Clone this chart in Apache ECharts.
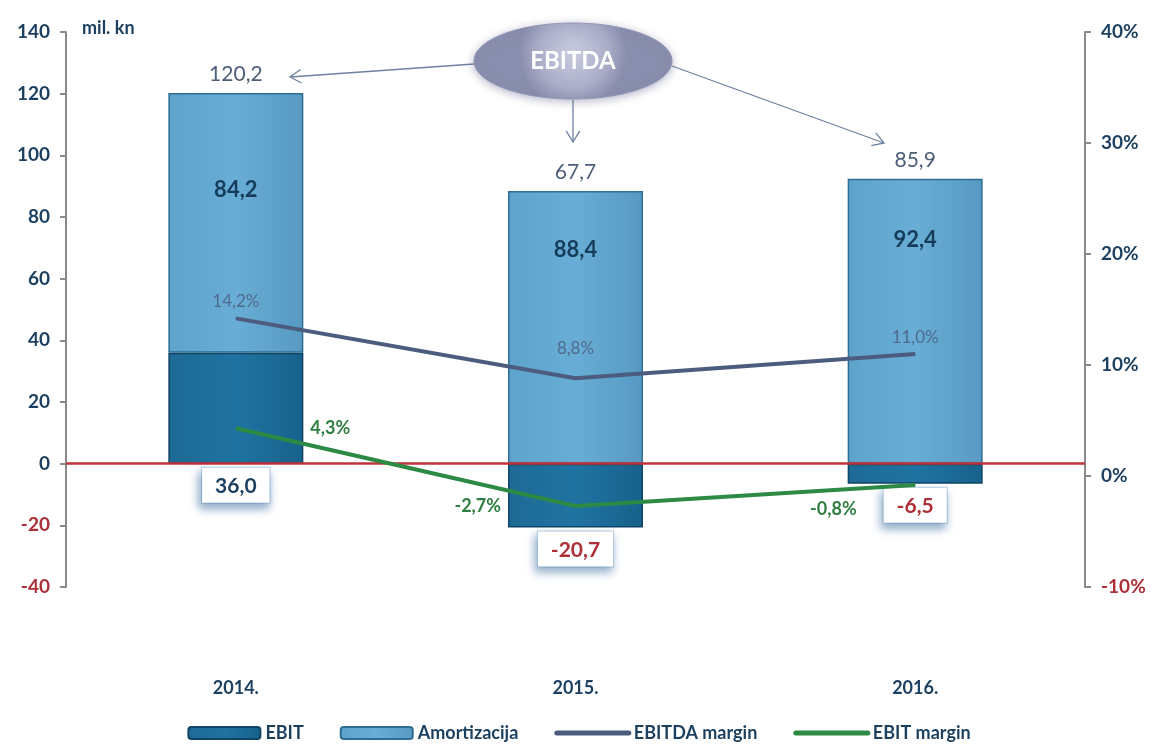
<!DOCTYPE html>
<html>
<head>
<meta charset="utf-8">
<script src="https://cdn.jsdelivr.net/npm/echarts@6/dist/echarts.min.js"></script>
<style>
  html, body { margin: 0; padding: 0; background: #fff; }
  #chart { width: 1158px; height: 751px; }
</style>
</head>
<body>
<div id="chart"></div>
<script>
// ─── Data ─────────────────────────────────────────────────────────────────
const years = ['2014.', '2015.', '2016.'];
const ebit = [36.0, -20.7, -6.5];
const amortizacija = [84.2, 88.4, 92.4];
const ebitda = [120.2, 67.7, 85.9];
const ebitdaMargin = [14.2, 8.8, 11.0];
const ebitMargin = [4.3, -2.7, -0.8];

// ─── Styles ───────────────────────────────────────────────────────────────
const FONT = 'Lato';
const NAVY = '#1b3f5f';
const RED = '#ad2f37';
const fmt = v => v.toFixed(1).replace('.', ',');

// per-point label tweaks (placement only)
const amortLabelDist = [86, 48, 50];
const ebitdaMarginLabel = [
  { position: 'top', distance: 8 },
  { position: 'top', distance: 21 },
  { position: 'top', distance: 7 }
];
const ebitMarginLabel = [
  { position: 'right', distance: 74 },
  { position: 'left', distance: 74 },
  { position: 'left', distance: 58, offset: [0, 24] }
];

// arrows from the EBITDA bubble
function arrow(x1, y1, x2, y2, color) {
  const a = Math.atan2(y2 - y1, x2 - x1);
  const L = 13, w = 0.55;
  const p1 = [x2 - L * Math.cos(a - w), y2 - L * Math.sin(a - w)];
  const p2 = [x2 - L * Math.cos(a + w), y2 - L * Math.sin(a + w)];
  return [
    { type: 'line', shape: { x1, y1, x2, y2 }, style: { stroke: color, lineWidth: 1.3 } },
    { type: 'polyline', shape: { points: [p1, [x2, y2], p2] }, style: { stroke: color, lineWidth: 1.3, fill: null } }
  ];
}

const chart = echarts.init(document.getElementById('chart'));

const axisLabelLeft = {
  fontFamily: FONT, fontWeight: 'bold', fontSize: 19, margin: 16,
  color: v => (Number(v) < 0 ? RED : NAVY)
};
const axisLabelRight = {
  fontFamily: FONT, fontWeight: 'bold', fontSize: 19, margin: 16,
  formatter: v => v + '%',
  color: v => (Number(v) < 0 ? RED : NAVY)
};

const option = {
  animation: false,
  grid: { left: 66, right: 73, top: 32, bottom: 164 },
  legend: {
    bottom: 4,
    left: 'center',
    itemWidth: 72,
    itemHeight: 12,
    itemGap: 36,
    textStyle: { fontFamily: FONT, fontWeight: 'bold', fontSize: 18, color: NAVY },
    data: [
      'EBIT',
      'Amortizacija',
      { name: 'EBITDA margin', itemStyle: { opacity: 0 }, lineStyle: { width: 5, cap: 'round' } },
      { name: 'EBIT margin', itemStyle: { opacity: 0 }, lineStyle: { width: 5, cap: 'round' } }
    ]
  },
  xAxis: {
    type: 'category',
    data: years,
    axisLine: { show: false },
    axisTick: { show: false },
    axisLabel: { fontFamily: FONT, fontWeight: 'bold', fontSize: 18, color: NAVY, margin: 92 }
  },
  yAxis: [
    {
      type: 'value', min: -40, max: 140, interval: 20,
      splitLine: { show: false },
      axisLine: { show: true, lineStyle: { color: '#8a8a8a', width: 2 } },
      axisTick: { show: true, length: 6, lineStyle: { color: '#8a8a8a', width: 2 } },
      axisLabel: axisLabelLeft
    },
    {
      type: 'value', min: -10, max: 40, interval: 10,
      splitLine: { show: false },
      axisLine: { show: true, lineStyle: { color: '#8a8a8a', width: 2 } },
      axisTick: { show: true, length: 6, lineStyle: { color: '#8a8a8a', width: 2 } },
      axisLabel: axisLabelRight
    }
  ],
  series: [
    {
      name: 'EBIT',
      type: 'bar',
      stack: 'ebitda',
      barWidth: 135,
      itemStyle: {
        color: new echarts.graphic.LinearGradient(0, 0, 1, 0, [
          { offset: 0, color: '#1d6a95' },
          { offset: 0.5, color: '#2073a1' },
          { offset: 1, color: '#17628c' }
        ]),
        borderColor: '#0f4464',
        borderWidth: 1.5
      },
      label: {
        show: true,
        position: 'bottom',
        distance: 4,
        formatter: p => (p.value < 0 ? '{neg|' : '{pos|') + fmt(p.value) + '}',
        backgroundColor: '#fff',
        borderColor: '#b7cde0',
        borderWidth: 1,
        padding: [8, 13, 6, 13],
        shadowColor: 'rgba(60,110,160,0.6)',
        shadowBlur: 9,
        shadowOffsetX: -2,
        shadowOffsetY: 5,
        rich: {
          pos: { fontFamily: FONT, fontWeight: 'bold', fontSize: 21, color: NAVY },
          neg: { fontFamily: FONT, fontWeight: 'bold', fontSize: 21, color: RED }
        }
      },
      data: ebit,
      markLine: {
        silent: true,
        symbol: 'none',
        label: { show: false },
        lineStyle: { color: '#c0303a', width: 2.5, type: 'solid' },
        data: [{ yAxis: 0 }]
      }
    },
    {
      name: 'Amortizacija',
      type: 'bar',
      stack: 'ebitda',
      barWidth: 135,
      itemStyle: {
        color: new echarts.graphic.LinearGradient(0, 0, 1, 0, [
          { offset: 0, color: '#5ea3cc' },
          { offset: 0.5, color: '#68add5' },
          { offset: 1, color: '#5799c2' }
        ]),
        borderColor: '#2f6e92',
        borderWidth: 1.5
      },
      data: amortizacija.map((v, i) => ({
        value: v,
        label: { distance: amortLabelDist[i] }
      })),
      label: {
        show: true,
        position: 'insideTop',
        fontFamily: FONT, fontWeight: 'bold', fontSize: 22, color: '#163c5c',
        formatter: p => fmt(p.value)
      }
    },
    {
      // EBITDA totals above each bar
      name: 'EBITDA',
      type: 'bar',
      stack: 'ebitda',
      barWidth: 135,
      silent: true,
      itemStyle: { color: 'transparent' },
      data: years.map(() => 0),
      label: {
        show: true,
        position: 'top',
        distance: 8,
        fontFamily: FONT, fontSize: 21, color: '#4d5e78',
        formatter: p => fmt(ebitda[p.dataIndex])
      }
    },
    {
      name: 'EBITDA margin',
      type: 'line',
      yAxisIndex: 1,
      symbol: 'circle',
      symbolSize: 1,
      showSymbol: true,
      z: 5,
      lineStyle: { color: '#4b5c7e', width: 4 },
      itemStyle: { color: '#4b5c7e' },
      data: ebitdaMargin.map((v, i) => ({ value: v, label: ebitdaMarginLabel[i] })),
      label: {
        show: true,
        fontFamily: FONT, fontSize: 17, color: '#4f6a8e',
        formatter: p => fmt(p.value) + '%'
      }
    },
    {
      name: 'EBIT margin',
      type: 'line',
      yAxisIndex: 1,
      symbol: 'circle',
      symbolSize: 1,
      showSymbol: true,
      z: 5,
      lineStyle: { color: '#2c8a44', width: 4 },
      itemStyle: { color: '#2c8a44' },
      data: ebitMargin.map((v, i) => ({ value: v, label: ebitMarginLabel[i] })),
      label: {
        show: true,
        fontFamily: FONT, fontWeight: 'bold', fontSize: 18, color: '#2f7e42',
        formatter: p => fmt(p.value) + '%'
      }
    }
  ],
  graphic: [
    {
      type: 'text', left: 82, top: 19,
      style: { text: 'mil. kn', fontFamily: FONT, fontWeight: 'bold', fontSize: 18, fill: NAVY }
    },
    ...arrow(474, 64, 290, 77, '#6d81a0'),
    ...arrow(573, 100, 573, 142, '#6d81a0'),
    ...arrow(672, 66, 884, 143, '#6d81a0'),
    {
      type: 'ellipse',
      shape: { cx: 573, cy: 61, rx: 99, ry: 38 },
      style: {
        fill: new echarts.graphic.RadialGradient(0.5, 0.4, 0.7, [
          { offset: 0, color: '#c9cce0' },
          { offset: 0.65, color: '#a9adc8' },
          { offset: 1, color: '#8a8eae' }
        ]),
        stroke: '#9296b3',
        lineWidth: 1,
        shadowColor: 'rgba(110,115,150,0.5)',
        shadowBlur: 8,
        shadowOffsetY: 2
      },
      z: 10
    },
    {
      type: 'text', x: 573, y: 61,
      style: {
        text: 'EBITDA', fontFamily: FONT, fontWeight: 'bold', fontSize: 24,
        fill: '#fff', align: 'center', verticalAlign: 'middle'
      },
      z: 11
    }
  ]
};

chart.setOption(option);
</script>
</body>
</html>
